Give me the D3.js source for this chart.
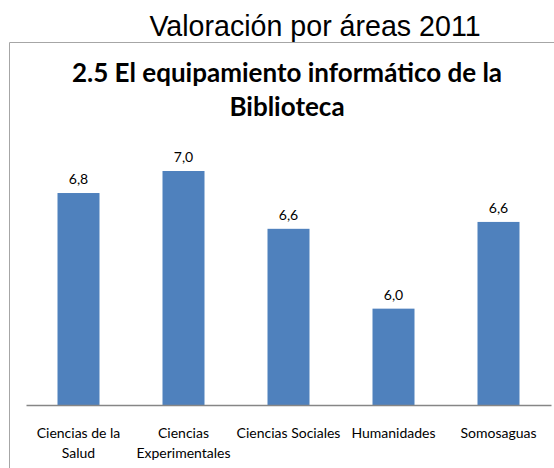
<!DOCTYPE html>
<html>
<head>
<meta charset="utf-8">
<script src="https://cdn.jsdelivr.net/npm/d3@7"></script>
<style>
  html, body { margin: 0; padding: 0; background: #fff; }
  svg { display: block; }
</style>
</head>
<body>
<div id="chart"></div>
<script>
// data (labels are shown rounded to one decimal)
const categories = ["Ciencias de la Salud", "Ciencias Experimentales", "Ciencias Sociales", "Humanidades", "Somosaguas"];
const tickLines = [["Ciencias de la", "Salud"], ["Ciencias", "Experimentales"], ["Ciencias Sociales"], ["Humanidades"], ["Somosaguas"]];
const values = [6.84, 7.0, 6.58, 6.0, 6.63];
const pageTitle = "Valoración por áreas 2011";
const chartTitle = ["2.5 El equipamiento informático de la", "Biblioteca"];

const width = 554, height = 468;
const plot = { left: 26, right: 551, bottom: 405 };

const svg = d3.select('#chart').append('svg')
  .attr('width', width)
  .attr('height', height);

// page title above the chart frame
svg.append('text')
  .attr('x', 315)
  .attr('y', 36)
  .attr('text-anchor', 'middle')
  .style('font-family', '"Liberation Sans", Arial, sans-serif')
  .style('font-size', '28.6px')
  .style('fill', '#000')
  .text(pageTitle);

// chart frame (cut off at right and bottom)
svg.append('path')
  .attr('d', `M9.5,${height} V42.5 H${width}`)
  .attr('fill', 'none')
  .attr('stroke', '#a6a6a6')
  .attr('stroke-width', 1);

// chart title
svg.append('text')
  .attr('text-anchor', 'middle')
  .style('font-family', 'Lato, "Open Sans", sans-serif')
  .style('font-weight', 'bold')
  .style('font-size', '26px')
  .style('fill', '#000')
  .selectAll('tspan')
  .data(chartTitle)
  .enter().append('tspan')
  .attr('x', 287)
  .attr('y', (d, i) => 82 + i * 34)
  .text(d => d);

const x = d3.scaleBand()
  .domain(categories)
  .range([plot.left, plot.right])
  .paddingInner(0.6)
  .paddingOuter(0.3);

const y = d3.scaleLinear()
  .domain([5.3, 7.0])
  .range([plot.bottom, 171]);

const fmt = d3.formatLocale({ decimal: ",", thousands: ".", grouping: [3], currency: ["", "€"] }).format(".1f");

// bars
svg.append('g')
  .selectAll('rect')
  .data(values)
  .enter().append('rect')
  .attr('x', (d, i) => x(categories[i]))
  .attr('y', d => y(d))
  .attr('width', x.bandwidth())
  .attr('height', d => plot.bottom - y(d))
  .attr('fill', '#4f81bd');

// data labels
svg.append('g')
  .selectAll('text')
  .data(values)
  .enter().append('text')
  .attr('x', (d, i) => x(categories[i]) + x.bandwidth() / 2)
  .attr('y', d => y(d) - 9)
  .attr('text-anchor', 'middle')
  .style('font-family', 'Lato, "Open Sans", sans-serif')
  .style('font-size', '14px')
  .style('fill', '#000')
  .text(d => fmt(d));

// category axis
const xAxis = svg.append('g')
  .attr('transform', `translate(0,${plot.bottom})`)
  .call(d3.axisBottom(x).tickSize(0).tickSizeOuter(0).tickFormat(''));

xAxis.select('.domain')
  .attr('stroke', '#868686')
  .attr('stroke-width', 1.5);

xAxis.selectAll('.tick').each(function(d, i) {
  const t = d3.select(this).append('text')
    .attr('text-anchor', 'middle')
    .attr('fill', '#000')
    .style('font-family', 'Lato, "Open Sans", sans-serif')
    .style('font-size', '14px');
  tickLines[i].forEach((line, j) => {
    t.append('tspan')
      .attr('x', 0)
      .attr('y', 33 + j * 20)
      .text(line);
  });
});
</script>
</body>
</html>
